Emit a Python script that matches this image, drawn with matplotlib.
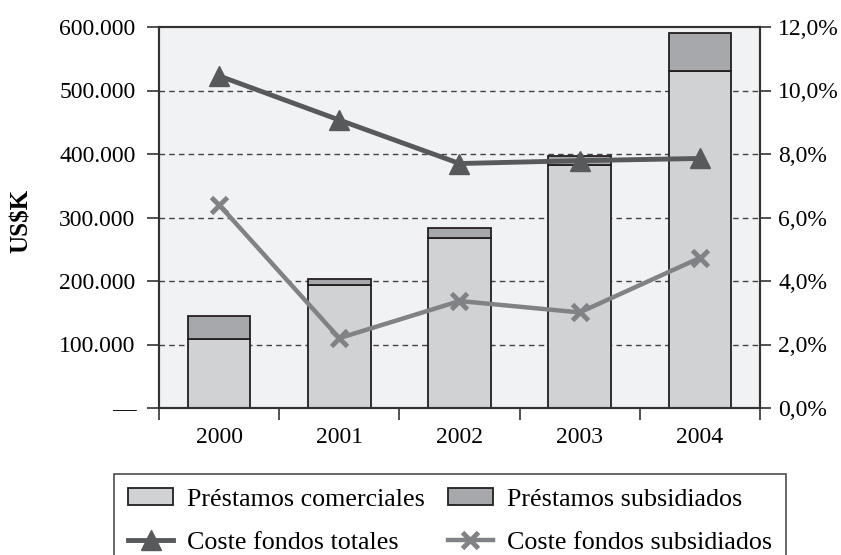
import matplotlib
matplotlib.use("Agg")
import matplotlib.pyplot as plt
from matplotlib.lines import Line2D
from matplotlib.patches import Patch
import numpy as np

years = ["2000", "2001", "2002", "2003", "2004"]
prestamos_comerciales = [108000, 193000, 268000, 383000, 531000]
prestamos_subsidiados = [37000, 10000, 15000, 14000, 60000]
coste_totales = [10.46, 9.07, 7.70, 7.79, 7.86]
coste_subsidiados = [6.40, 2.20, 3.37, 3.01, 4.73]
left_ticks = [0, 100000, 200000, 300000, 400000, 500000, 600000]
left_labels = ["—", "100.000", "200.000", "300.000", "400.000", "500.000", "600.000"]
right_ticks = [0, 2, 4, 6, 8, 10, 12]
right_labels = ["0,0%", "2,0%", "4,0%", "6,0%", "8,0%", "10,0%", "12,0%"]

plt.rcParams['font.family'] = ['Liberation Serif', 'DejaVu Serif']

fig = plt.figure(figsize=(8.41, 5.55), dpi=100)
L, R, T, B = 159, 760, 27, 408
ax = fig.add_axes([L/841, 1-B/555, (R-L)/841, (B-T)/555])
ax.set_facecolor('#f1f2f4')

x = np.arange(len(years))
edge = '#231f20'
ax.bar(x, prestamos_comerciales, width=0.52, color='#d1d2d4', edgecolor=edge, linewidth=1.3, zorder=2)
ax.bar(x, prestamos_subsidiados, width=0.52, bottom=prestamos_comerciales, color='#a7a8ab',
       edgecolor=edge, linewidth=1.3, zorder=2)

ax.set_xlim(-0.5, 4.5)
ax.set_ylim(0, 600000)
ax.set_yticks(left_ticks)
ax.set_yticklabels(left_labels, fontsize=17)
ax.set_xticks(x)
ax.set_xticklabels(years, fontsize=17)
ax.set_xticks(np.arange(-0.5, 5.0, 1.0), minor=True)
ax.tick_params(axis='x', which='major', length=0, pad=14)
ax.tick_params(axis='x', which='minor', length=8.5, width=1.2, color='#333333')
ax.tick_params(axis='y', length=8.5, width=1.2, color='#333333', pad=8.5)
for gy in left_ticks[1:-1]:
    ax.axhline(gy, color='#444444', linestyle=(0, (4, 3)), linewidth=1.0, zorder=1)
for s in ax.spines.values():
    s.set_color('#333333')
    s.set_linewidth(1.5)
ax.set_ylabel("US\\$K", fontsize=18, fontweight='bold')
ax.yaxis.set_label_coords((33 - L) / (R - L), 0.49)

ax2 = ax.twinx()
ax2.set_ylim(0, 12)
ax2.set_yticks(right_ticks)
ax2.set_yticklabels(right_labels, fontsize=17)
ax2.tick_params(axis='y', length=8, width=1.2, color='#333333', pad=5)
for s in ax2.spines.values():
    s.set_color('#333333')
    s.set_linewidth(1.5)
ax2.plot(x, coste_totales, color='#58595b', linewidth=3.5, marker='^', markersize=15, zorder=3)
ax2.plot(x, coste_subsidiados, color='#808285', linewidth=3.2, marker='x', markersize=12,
         markeredgewidth=3.5, zorder=3)

handles = [
    Patch(facecolor='#d1d2d4', edgecolor=edge, linewidth=1.3),
    Line2D([0], [0], color='#58595b', linewidth=3.5, marker='^', markersize=15),
    Patch(facecolor='#a7a8ab', edgecolor=edge, linewidth=1.3),
    Line2D([0], [0], color='#808285', linewidth=3.2, marker='x', markersize=12, markeredgewidth=3.5),
]
labels = ["Préstamos comerciales", "Coste fondos totales", "Préstamos subsidiados", "Coste fondos subsidiados"]
leg = fig.legend(handles, labels, ncol=2, loc='upper left',
                 bbox_to_anchor=(114/841, 1-474/555),
                 fontsize=18.7, frameon=True, fancybox=False, edgecolor='#231f20',
                 handlelength=1.73, handleheight=0.6, handletextpad=0.54, columnspacing=0.88,
                 labelspacing=0.8, borderpad=0.55, borderaxespad=0)
leg.get_frame().set_linewidth(1.2)

fig.savefig("out.png", dpi=100)
